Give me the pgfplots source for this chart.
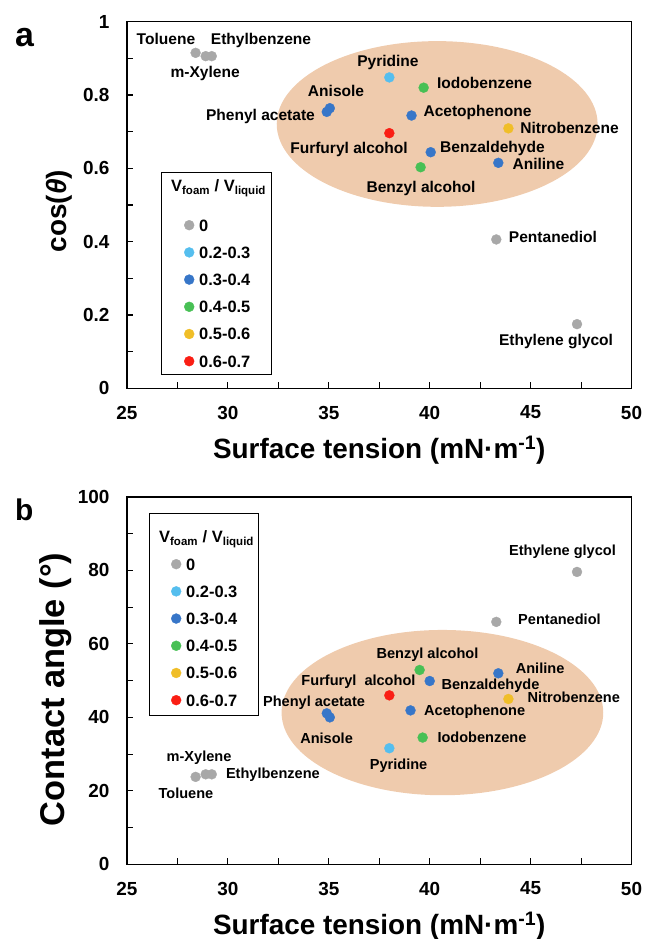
\documentclass[border=0pt]{standalone}
\usepackage{fontspec}
\setmainfont{Liberation Sans}
\usepackage{pgfplots}
\pgfplotsset{compat=1.18}

\definecolor{cgray}{RGB}{168,168,168}
\definecolor{clblue}{RGB}{85,190,238}
\definecolor{cblue}{RGB}{55,118,200}
\definecolor{cgreen}{RGB}{72,192,85}
\definecolor{cyellow}{RGB}{240,190,40}
\definecolor{cred}{RGB}{250,30,20}
\definecolor{peach}{RGB}{239,203,173}

\tikzset{
  ptA/.style={font=\fontsize{15.6}{18}\selectfont\bfseries, anchor=base, yshift=-5.7bp, inner sep=0pt, text=black},
  ptB/.style={font=\fontsize{14.6}{17}\selectfont\bfseries, anchor=base, yshift=-5.4bp, inner sep=0pt, text=black},
  legtitle/.style={font=\fontsize{16.5}{18}\selectfont\bfseries, anchor=base west, inner sep=0pt},
}
\pgfplotsset{
  myaxis/.style={
    scale only axis, width=504.5bp,
    xmin=25, xmax=50, xtick={25,30,35,40,45,50}, minor x tick num=1,
    tick pos=left, tick align=inside,
    major tick length=6bp, minor tick length=6bp,
    every tick/.append style={black, line width=1.1bp},
    axis line style={line width=1.2bp},
    /pgf/number format/assume math mode=true,
    ticklabel style={font=\fontsize{19}{22}\selectfont\bfseries},
    xticklabel style={yshift=-14bp},
    yticklabel style={xshift=-14bp},
    xlabel={Surface tension (mN·m\textsuperscript{-1})},
    xlabel style={font=\fontsize{28}{32}\selectfont\bfseries, at={(axis description cs:0.5,0)}, anchor=base, yshift=-70bp},
    legend cell align=left,
    legend style={draw=none, fill=none, inner sep=0pt,
      row sep=15.2bp, column sep=5bp, font=\fontsize{16.5}{18}\selectfont\bfseries,
      nodes={inner sep=0pt, anchor=base west, text height=12bp, text depth=0bp}, anchor=north west},
  },
  dot/.style={only marks, mark=*, mark size=5bp, mark options={line width=0.3bp},
    legend image code/.code={\draw plot coordinates {(5bp,6bp)};}},
}

\begin{document}
\begin{tikzpicture}
\path[use as bounding box] (0bp,0bp) rectangle (647bp,939bp);

% ---------------- panel a ----------------
\begin{axis}[myaxis, at={(127bp,550.7bp)}, anchor=south west, height=366.6bp,
  ymin=0, ymax=1, ytick={0,0.2,0.4,0.6,0.8,1}, minor y tick num=1,
  ylabel={cos(\textit{θ})},
  ylabel style={font=\fontsize{28}{32}\selectfont\bfseries, at={(axis description cs:-0.1209,0.483)}, anchor=base},
  legend style={at={(axis description cs:0.113,0.4618)}},
]
\fill[peach] (axis cs:40.37,0.721) ellipse [x radius=7.95, y radius=0.226];
\draw[line width=0.9bp] (axis description cs:0.0674,0.590) rectangle (axis description cs:0.2854,0.039);
\node[legtitle] at (axis description cs:0.0872,0.5357) {V\textsubscript{foam} / V\textsubscript{liquid}};
\addplot[dot, color=cgray] coordinates {(28.4,0.915) (28.9,0.906) (29.2,0.906) (43.3,0.406) (47.3,0.175)};
\addlegendentry{0}
\addplot[dot, color=clblue] coordinates {(38.0,0.848)};
\addlegendentry{0.2-0.3}
\addplot[dot, color=cblue] coordinates {(35.05,0.764) (34.9,0.754) (39.1,0.744) (40.05,0.644) (43.4,0.615)};
\addlegendentry{0.3-0.4}
\addplot[dot, color=cgreen] coordinates {(39.7,0.820) (39.55,0.603)};
\addlegendentry{0.4-0.5}
\addplot[dot, color=cyellow] coordinates {(43.9,0.709)};
\addlegendentry{0.5-0.6}
\addplot[dot, color=cred] coordinates {(38.0,0.696)};
\addlegendentry{0.6-0.7}

\node[ptA] at (axis cs:26.93,0.953) {Toluene};
\node[ptA] at (axis cs:31.64,0.953) {Ethylbenzene};
\node[ptA] at (axis cs:28.87,0.863) {m-Xylene};
\node[ptA] at (axis cs:37.93,0.893) {Pyridine};
\node[ptA] at (axis cs:42.72,0.833) {Iodobenzene};
\node[ptA] at (axis cs:35.36,0.811) {Anisole};
\node[ptA, anchor=base east] at (axis cs:34.32,0.745) {Phenyl acetate};
\node[ptA] at (axis cs:42.37,0.758) {Acetophenone};
\node[ptA] at (axis cs:46.93,0.710) {Nitrobenzene};
\node[ptA, anchor=base east] at (axis cs:38.92,0.655) {Furfuryl alcohol};
\node[ptA] at (axis cs:43.11,0.658) {Benzaldehyde};
\node[ptA] at (axis cs:45.39,0.612) {Aniline};
\node[ptA] at (axis cs:39.57,0.549) {Benzyl alcohol};
\node[ptA] at (axis cs:46.11,0.414) {Pentanediol};
\node[ptA] at (axis cs:46.26,0.133) {Ethylene glycol};
\end{axis}

% ---------------- panel b ----------------
\begin{axis}[myaxis, at={(127bp,74.7bp)}, anchor=south west, height=367.3bp,
  ymin=0, ymax=100, ytick={0,20,40,60,80,100}, minor y tick num=1,
  ylabel={Contact angle (°)},
  ylabel style={font=\fontsize{34.5}{40}\selectfont\bfseries, at={(axis description cs:-0.1233,0.476)}, anchor=base},
  legend style={at={(axis description cs:0.0872,0.834)}},
]
\fill[peach] (axis cs:40.63,41.3) ellipse [x radius=7.97, y radius=22.5];
\draw[line width=0.9bp] (axis description cs:0.0436,0.9564) rectangle (axis description cs:0.2597,0.4064);
\node[legtitle] at (axis description cs:0.0634,0.8748) {V\textsubscript{foam} / V\textsubscript{liquid}};
\addplot[dot, color=cgray] coordinates {(28.4,23.8) (28.9,24.5) (29.2,24.5) (43.3,66.0) (47.3,79.6)};
\addlegendentry{0}
\addplot[dot, color=clblue] coordinates {(38.0,31.6)};
\addlegendentry{0.2-0.3}
\addplot[dot, color=cblue] coordinates {(35.05,40.0) (34.9,41.1) (39.05,41.9) (40.0,49.9) (43.4,52.0)};
\addlegendentry{0.3-0.4}
\addplot[dot, color=cgreen] coordinates {(39.65,34.5) (39.5,52.9)};
\addlegendentry{0.4-0.5}
\addplot[dot, color=cyellow] coordinates {(43.9,45.0)};
\addlegendentry{0.5-0.6}
\addplot[dot, color=cred] coordinates {(38.0,46.0)};
\addlegendentry{0.6-0.7}

\node[ptB] at (axis cs:46.58,85.57) {Ethylene glycol};
\node[ptB] at (axis cs:46.43,66.65) {Pentanediol};
\node[ptB] at (axis cs:39.89,57.53) {Benzyl alcohol};
\node[ptB] at (axis cs:45.47,53.44) {Aniline};
\node[ptB] at (axis cs:36.47,50.04) {Furfuryl\ \ alcohol};
\node[ptB] at (axis cs:43.01,49.09) {Benzaldehyde};
\node[ptB] at (axis cs:47.14,45.41) {Nitrobenzene};
\node[ptB] at (axis cs:34.27,44.46) {Phenyl acetate};
\node[ptB] at (axis cs:42.23,42.01) {Acetophenone};
\node[ptB] at (axis cs:34.89,34.25) {Anisole};
\node[ptB] at (axis cs:42.59,34.52) {Iodobenzene};
\node[ptB] at (axis cs:38.46,27.17) {Pyridine};
\node[ptB] at (axis cs:28.57,29.49) {m-Xylene};
\node[ptB] at (axis cs:32.23,24.86) {Ethylbenzene};
\node[ptB] at (axis cs:27.92,19.41) {Toluene};
\end{axis}

\node[anchor=base west, inner sep=0pt, font=\fontsize{34}{40}\selectfont\bfseries] at (15bp,892bp) {a};
\node[anchor=base west, inner sep=0pt, font=\fontsize{30}{36}\selectfont\bfseries] at (15bp,418bp) {b};
\end{tikzpicture}
\end{document}
